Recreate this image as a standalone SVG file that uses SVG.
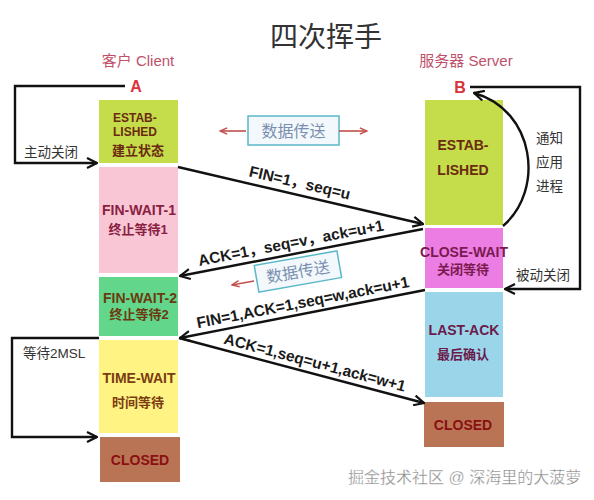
<svg xmlns="http://www.w3.org/2000/svg" width="594" height="500" viewBox="0 0 594 500">
<defs>
<marker id="ah" viewBox="0 0 12 12" refX="11" refY="6" markerWidth="12" markerHeight="12" markerUnits="userSpaceOnUse" orient="auto">
<path d="M1,1 L11,6 L1,11" fill="none" stroke="#111" stroke-width="2.2"/>
</marker>
<marker id="rh" viewBox="0 0 10 10" refX="9" refY="5" markerWidth="9" markerHeight="9" markerUnits="userSpaceOnUse" orient="auto">
<path d="M1,1.5 L9,5 L1,8.5" fill="none" stroke="#c0504d" stroke-width="1.6"/>
</marker>
<style>
.t{font-family:"Liberation Sans","Noto Sans CJK SC",sans-serif;}
.st{font-family:"Liberation Sans","Noto Sans CJK SC",sans-serif;font-weight:bold;font-size:14px;text-anchor:middle;}
.cj{font-size:13px;}
.lbl{font-family:"Liberation Sans","Noto Sans CJK SC",sans-serif;font-size:13.5px;fill:#333;}
.msg{font-family:"Liberation Sans","Noto Sans CJK SC",sans-serif;font-size:15.5px;font-weight:bold;fill:#1a1a1a;text-anchor:middle;}
.ln{fill:none;stroke:#111;stroke-width:2.4;}
.hdr{font-family:"Liberation Sans","Noto Sans CJK SC",sans-serif;font-size:15px;fill:#c0506a;text-anchor:middle;}
.db{fill:#f2f8fb;stroke:#5bb8c8;stroke-width:1.5;}
.dt{font-family:"Liberation Sans","Noto Sans CJK SC",sans-serif;font-size:16px;fill:#7a8fb0;text-anchor:middle;}
</style>
</defs>
<rect width="594" height="500" fill="#fff"/>
<text class="t" x="326" y="47" font-size="28" fill="#333" text-anchor="middle">四次挥手</text>
<text class="hdr" x="138" y="66">客户 Client</text>
<text class="hdr" x="466" y="66">服务器 Server</text>
<text class="t" x="136" y="92" font-size="16" font-weight="bold" fill="#d9343c" text-anchor="middle">A</text>
<text class="t" x="460" y="93" font-size="16" font-weight="bold" fill="#d9343c" text-anchor="middle">B</text>

<g id="c-established"><rect x="99" y="100" width="79" height="63" fill="#c5dd4b"/>
<text class="t" font-weight="bold" fill="#6b2a10" x="113" y="122" font-size="12">ESTAB-</text>
<text class="t" font-weight="bold" fill="#6b2a10" x="113" y="136" font-size="12">LISHED</text>
<text class="t" font-weight="bold" fill="#6b2a10" x="112" y="155" font-size="13">建立状态</text></g>
<g id="c-finwait1"><rect x="99" y="167" width="79" height="106" fill="#f9c6d6"/>
<text class="st" fill="#8a2040" x="139" y="215" font-size="15">FIN-WAIT-1</text>
<text class="st cj" fill="#8a2040" x="138" y="234">终止等待1</text></g>
<g id="c-finwait2"><rect x="99" y="277" width="79" height="59" fill="#62d68a"/>
<text class="st" fill="#6b3a10" x="140" y="303" font-size="15">FIN-WAIT-2</text>
<text class="st cj" fill="#6b3a10" x="139" y="319">终止等待2</text></g>
<g id="c-timewait"><rect x="99" y="340" width="79" height="93" fill="#fff383"/>
<text class="st" fill="#7a3c10" x="139" y="383" font-size="15">TIME-WAIT</text>
<text class="st cj" fill="#7a3c10" x="138" y="407">时间等待</text></g>
<g id="c-closed"><rect x="100" y="437" width="80" height="45" fill="#b97456"/>
<text class="st" fill="#8a1010" x="140" y="465">CLOSED</text></g>

<g id="s-established"><rect x="425" y="100" width="78" height="125" fill="#c5dd4b"/>
<text class="st" fill="#6b2a10" x="463" y="150" font-size="15">ESTAB-</text>
<text class="st" fill="#6b2a10" x="463" y="175" font-size="15">LISHED</text></g>
<g id="s-closewait"><rect x="425" y="228" width="78" height="60" fill="#ec7de2"/>
<text class="st" fill="#7a1a50" x="464" y="257">CLOSE-WAIT</text>
<text class="st cj" fill="#7a1a50" x="463" y="274" font-size="14">关闭等待</text></g>
<g id="s-lastack"><rect x="425" y="292" width="78" height="105" fill="#9ad5ea"/>
<text class="st" fill="#6a1a4a" x="464" y="335">LAST-ACK</text>
<text class="st cj" fill="#6a1a4a" x="463" y="359">最后确认</text></g>
<g id="s-closed"><rect x="424" y="402" width="80" height="45" fill="#b97456"/>
<text class="st" fill="#8a1010" x="463" y="430">CLOSED</text></g>

<g id="data1">
<rect class="db" x="248" y="116" width="91" height="29"/>
<text class="dt" x="293.5" y="136.5">数据传送</text>
</g>
<g id="data2" transform="translate(298,272) rotate(-10)">
<rect class="db" x="-42" y="-14" width="84" height="27"/>
<text class="dt" x="0" y="5.5" font-size="15.5">数据传送</text>
</g>

<g id="connectors">
<line x1="246" y1="131" x2="220" y2="131" stroke="#c0504d" stroke-width="1.6" marker-end="url(#rh)"/>
<line x1="339" y1="131" x2="367" y2="131" stroke="#c0504d" stroke-width="1.6" marker-end="url(#rh)"/>
<line x1="254" y1="281" x2="232" y2="285" stroke="#c0504d" stroke-width="1.4" marker-end="url(#rh)"/>

<polyline class="ln" points="125,86 15,86 15,163 97,163" marker-end="url(#ah)"/>
<polyline class="ln" points="99,338 12,338 12,437 97,437" marker-end="url(#ah)"/>
<polyline class="ln" points="470,87 580,87 580,289 505,289" marker-end="url(#ah)"/>
<path class="ln" d="M503,226 C545,190 535,110 474,93" marker-end="url(#ah)"/>

<line class="ln" x1="178" y1="167" x2="423" y2="224" marker-end="url(#ah)"/>
<line class="ln" x1="423" y1="229" x2="180" y2="276" marker-end="url(#ah)"/>
<line class="ln" x1="425" y1="290" x2="180" y2="338" marker-end="url(#ah)"/>
<line class="ln" x1="179" y1="338" x2="424" y2="403" marker-end="url(#ah)"/>

<text class="lbl" x="24" y="157">主动关闭</text>
<text class="lbl" x="23" y="358">等待2MSL</text>
<text class="lbl" x="516" y="280">被动关闭</text>
<text class="lbl" x="536" y="143">通知</text>
<text class="lbl" x="536" y="167">应用</text>
<text class="lbl" x="536" y="191">进程</text>

<g transform="translate(297,194.7) rotate(13.1)"><text class="msg" x="0" y="-7" font-size="16">FIN=1，seq=u</text></g>
<g transform="translate(293,254) rotate(-10.9)"><text class="msg" x="0" y="-6" font-size="16">ACK=1，seq=v，ack=u+1</text></g>
<g transform="translate(305,313.4) rotate(-11)"><text class="msg" x="0" y="-6">FIN=1,ACK=1,seq=w,ack=u+1</text></g>
<g transform="translate(312,373.3) rotate(14.9)"><text class="msg" x="0" y="-6">ACK=1,seq=u+1,ack=w+1</text></g>
</g>

<text class="t" x="348" y="483" font-size="16" fill="#888" stroke="#fff" stroke-width="0.3">掘金技术社区 @ 深海里的大菠萝</text>
</svg>
